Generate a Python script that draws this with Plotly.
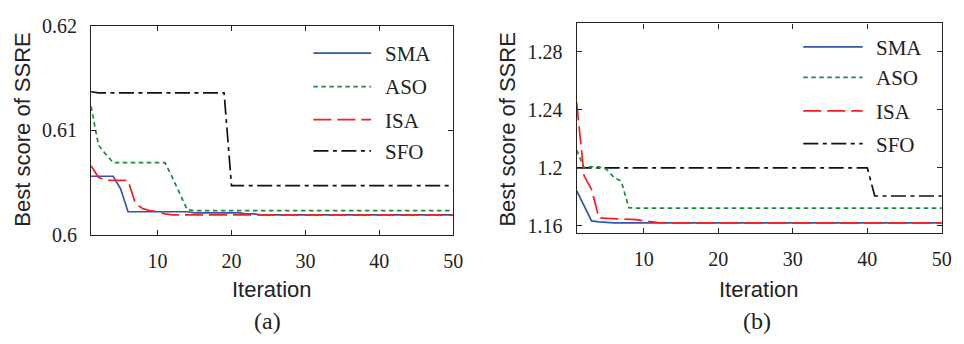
import plotly.graph_objects as go

W, H = 964, 344

iterations = list(range(1, 51))
series_names = ["SMA", "ASO", "ISA", "SFO"]

# ---- Panel (a) ----
sma_a = [0.6056, 0.6056, 0.6056, 0.6056, 0.6044, 0.6022, 0.6022, 0.6022, 0.6022, 0.6022,
         0.6022, 0.6022, 0.6022, 0.6022, 0.6021, 0.6021, 0.6021, 0.6021, 0.6021, 0.6021,
         0.6021, 0.6020, 0.6020, 0.6019] + [0.6019] * 26
aso_a = [0.6123, 0.6086, 0.6077, 0.6069, 0.6069, 0.6069, 0.6069, 0.6069, 0.6069, 0.6069,
         0.6069, 0.6055, 0.6040, 0.6024] + [0.6023] * 36
isa_a = [0.6066, 0.6055, 0.6052, 0.6052, 0.6052, 0.6052, 0.6030, 0.6025, 0.6023, 0.6022,
         0.6020, 0.6019] + [0.6019] * 38
sfo_a = [0.6137] + [0.6136] * 18 + [0.6047] * 31

# ---- Panel (b) ----
sma_b = [1.1843, 1.1740, 1.1634, 1.1628, 1.1623] + [1.1621] * 45
aso_b = [1.2123, 1.2000, 1.2008, 1.2006, 1.1990, 1.1935, 1.1907, 1.1725] + [1.1722] * 42
isa_b = [1.2450, 1.1945, 1.1850, 1.1655, 1.1652, 1.1650, 1.1648, 1.1646, 1.1643, 1.1635,
         1.1628, 1.1623] + [1.1621] * 38
sfo_b = [1.2000] * 40 + [1.1806] * 10

xticks = [10, 20, 30, 40, 50]
yticks_a = [0.60, 0.61, 0.62]
yticklabels_a = ["0.6", "0.61", "0.62"]
yticks_b = [1.16, 1.20, 1.24, 1.28]
yticklabels_b = ["1.16", "1.2", "1.24", "1.28"]

colors = {"SMA": "#3355aa", "ASO": "#1b8a3e", "ISA": "#ee2222", "SFO": "#111111"}
dashes = {"SMA": "solid", "ASO": "4.5px,3.5px", "ISA": "18px,6px",
          "SFO": "15px,4.5px,4px,4.5px"}
LW = 1.7

fig = go.Figure()
panel_a = {"SMA": sma_a, "ASO": aso_a, "ISA": isa_a, "SFO": sfo_a}
panel_b = {"SMA": sma_b, "ASO": aso_b, "ISA": isa_b, "SFO": sfo_b}

draw_order = ["SFO", "ASO", "SMA", "ISA"]
for name in draw_order:
    fig.add_trace(go.Scatter(x=iterations, y=panel_a[name], mode="lines", name=name,
                             line=dict(color=colors[name], dash=dashes[name], width=LW),
                             xaxis="x", yaxis="y", showlegend=False))
for name in draw_order:
    fig.add_trace(go.Scatter(x=iterations, y=panel_b[name], mode="lines", name=name,
                             line=dict(color=colors[name], dash=dashes[name], width=LW),
                             xaxis="x2", yaxis="y2", showlegend=False))

px = lambda p: p / W
py = lambda p: 1 - p / H

tickfont = dict(family="Liberation Serif", size=20, color="#222")
axis_common = dict(showline=True, linecolor="#222", linewidth=1.2, mirror="ticks",
                   ticks="inside", ticklen=5, tickcolor="#222", tickwidth=1,
                   showgrid=False, zeroline=False, tickfont=tickfont)

fig.update_layout(
    width=W, height=H, margin=dict(l=0, r=0, t=0, b=0),
    paper_bgcolor="white", plot_bgcolor="white", showlegend=False,
    xaxis=dict(domain=[px(92), px(458)], range=[1, 50], tickvals=xticks,
               anchor="y", ticklabelstandoff=8, **axis_common),
    yaxis=dict(domain=[py(239), py(16)], range=[0.6, 0.62], tickvals=yticks_a,
               ticktext=yticklabels_a, anchor="x", ticklabelstandoff=9, **axis_common),
    xaxis2=dict(domain=[px(582.7), px(951.7)], range=[1, 50], tickvals=xticks,
                anchor="y2", ticklabelstandoff=8, **axis_common),
    yaxis2=dict(domain=[py(237.3), py(13.3)], range=[1.155, 1.2995], tickvals=yticks_b,
                ticktext=yticklabels_b, anchor="x2", ticklabelstandoff=9, **axis_common),
)

sans = dict(family="Liberation Sans", size=22, color="#222")
serif = dict(family="Liberation Serif", size=21, color="#222")

annotations = []
for cx, label in [(23, "Best score of SSRE"), (513, "Best score of SSRE")]:
    annotations.append(dict(x=px(cx), y=py(127), xref="paper", yref="paper", text=label,
                            textangle=-90, showarrow=False, font=sans,
                            xanchor="center", yanchor="middle"))
for cx, label in [(275, "Iteration"), (767, "Iteration")]:
    annotations.append(dict(x=px(cx), y=py(298), xref="paper", yref="paper", text=label,
                            showarrow=False, font=sans, xanchor="center", yanchor="middle"))
for cx, label in [(270, "(a)"), (765, "(b)")]:
    annotations.append(dict(x=px(cx), y=py(331), xref="paper", yref="paper", text=label,
                            showarrow=False, font=dict(family="Liberation Serif", size=24, color="#222"),
                            xanchor="center", yanchor="middle"))

shapes = []
legend_specs = [
    (316.7, 375.0, 386.7, [45.0, 80.7, 116.0, 149.5]),
    (811.7, 871.7, 883.3, [38.3, 71.0, 106.7, 141.7]),
]
for x0, x1, xt, rows in legend_specs:
    for name, ry in zip(series_names, rows):
        shapes.append(dict(type="line", xref="paper", yref="paper",
                           x0=px(x0), x1=px(x1), y0=py(ry), y1=py(ry),
                           line=dict(color=colors[name], dash=dashes[name], width=LW)))
        annotations.append(dict(x=px(xt), y=py(ry + 1), xref="paper", yref="paper", text=name,
                                showarrow=False, font=serif, xanchor="left", yanchor="middle"))

fig.update_layout(annotations=annotations, shapes=shapes)
fig.write_html("out.html")
